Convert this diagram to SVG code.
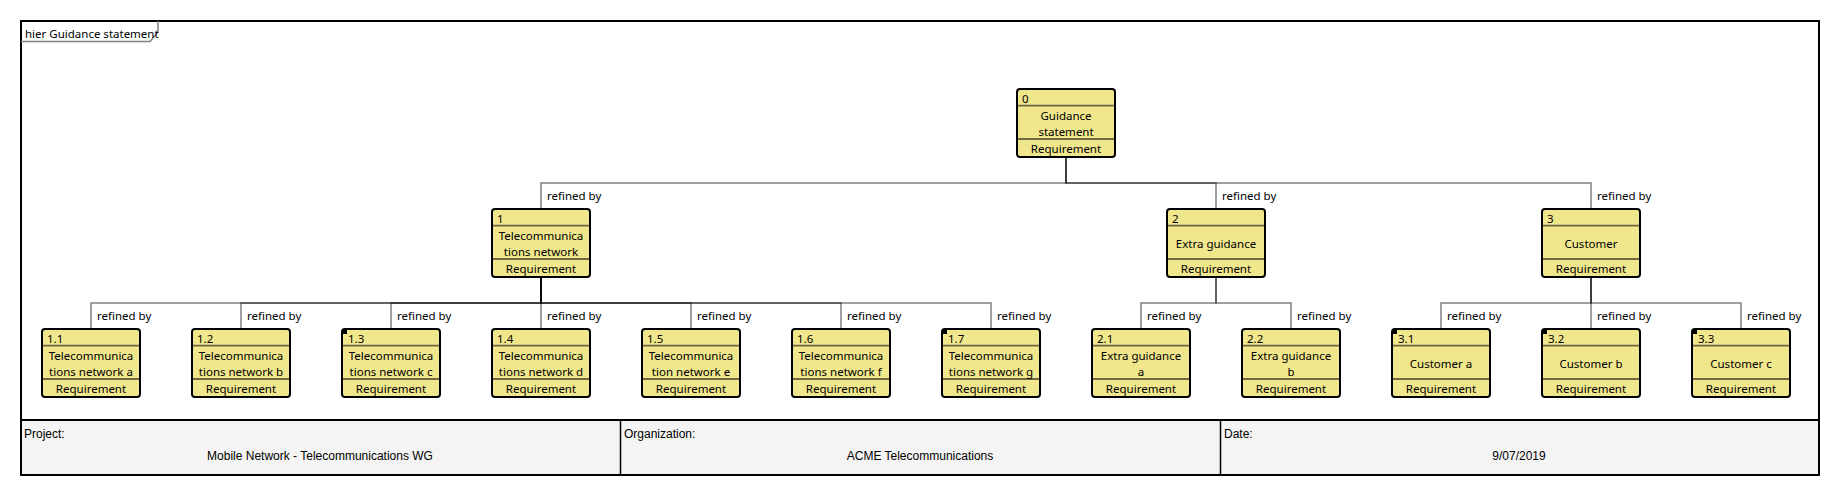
<svg xmlns="http://www.w3.org/2000/svg" width="1840" height="495" viewBox="0 0 1840 495">
<style>
text{font-family:"Noto Sans","Open Sans","DejaVu Sans",sans-serif;fill:#000;}
.nt{font-size:11.5px;text-anchor:middle;}
.id{font-size:11.5px;text-anchor:start;}
.lbl{font-size:11.5px;}
.box{fill:#F0E68C;stroke:#000;stroke-width:2;}
.div{stroke:#6E6844;stroke-width:1.8;}
.mk{fill:#000;}
.con{fill:none;stroke:#000;stroke-opacity:0.5;stroke-width:1.5;}
.ft{font-family:"Liberation Sans","DejaVu Sans",sans-serif;font-size:12px;}
</style>
<defs>
<g id="nodebox">
<rect class="box" x="0" y="0" width="98" height="68" rx="3" ry="3"/>
<line class="div" x1="1" y1="16.7" x2="97" y2="16.7"/>
<line class="div" x1="1" y1="50" x2="97" y2="50"/>
</g>
</defs>
<rect x="0" y="0" width="1840" height="495" fill="#fff"/>
<!-- frame -->
<g id="frame">
<rect x="21" y="420" width="1798" height="55" fill="#F4F4F4"/>
<rect x="21" y="21" width="1798" height="454" fill="none" stroke="#000" stroke-width="2"/>
<path d="M21,41.5 H150 L158,32 V21" fill="none" stroke="#808080" stroke-width="1.5"/>
<text x="25" y="38" style="font-size:11.5px">hier Guidance statement</text>
<line x1="21" y1="420" x2="1819" y2="420" stroke="#000" stroke-width="2"/>
<line x1="620.5" y1="420" x2="620.5" y2="475" stroke="#000" stroke-width="1.5"/>
<line x1="1220.5" y1="420" x2="1220.5" y2="475" stroke="#000" stroke-width="1.5"/>
<text class="ft" x="24" y="437.5">Project:</text>
<text class="ft" x="320" y="459.5" text-anchor="middle">Mobile Network - Telecommunications WG</text>
<text class="ft" x="624" y="437.5">Organization:</text>
<text class="ft" x="920" y="459.5" text-anchor="middle">ACME Telecommunications</text>
<text class="ft" x="1224" y="437.5">Date:</text>
<text class="ft" x="1519" y="459.5" text-anchor="middle">9/07/2019</text>
</g>
<!-- connectors -->
<g id="connectors">
<path class="con" d="M1066,157 V183 H541 V209"/>
<path class="con" d="M1066,157 V183 H1216 V209"/>
<path class="con" d="M1066,157 V183 H1591 V209"/>
<path class="con" d="M541,277 V303 H91 V329"/>
<path class="con" d="M541,277 V303 H241 V329"/>
<path class="con" d="M541,277 V303 H391 V329"/>
<path class="con" d="M541,277 V303 H541 V329"/>
<path class="con" d="M541,277 V303 H691 V329"/>
<path class="con" d="M541,277 V303 H841 V329"/>
<path class="con" d="M541,277 V303 H991 V329"/>
<path class="con" d="M1216,277 V303 H1141 V329"/>
<path class="con" d="M1216,277 V303 H1291 V329"/>
<path class="con" d="M1591,277 V303 H1441 V329"/>
<path class="con" d="M1591,277 V303 H1591 V329"/>
<path class="con" d="M1591,277 V303 H1741 V329"/>
<text class="lbl" x="547" y="200">refined by</text>
<text class="lbl" x="1222" y="200">refined by</text>
<text class="lbl" x="1597" y="200">refined by</text>
<text class="lbl" x="97" y="320">refined by</text>
<text class="lbl" x="247" y="320">refined by</text>
<text class="lbl" x="397" y="320">refined by</text>
<text class="lbl" x="547" y="320">refined by</text>
<text class="lbl" x="697" y="320">refined by</text>
<text class="lbl" x="847" y="320">refined by</text>
<text class="lbl" x="997" y="320">refined by</text>
<text class="lbl" x="1147" y="320">refined by</text>
<text class="lbl" x="1297" y="320">refined by</text>
<text class="lbl" x="1447" y="320">refined by</text>
<text class="lbl" x="1597" y="320">refined by</text>
<text class="lbl" x="1747" y="320">refined by</text>
</g>
<!-- nodes -->
<g id="node-0" transform="translate(1017,89)">
<use href="#nodebox"/>
<text class="id" x="5" y="14.2">0</text>
<text class="nt" x="49" y="31.3">Guidance</text>
<text class="nt" x="49" y="47.3">statement</text>
<text class="nt" x="49" y="64.2">Requirement</text>
</g>
<g id="node-1" transform="translate(492,209)">
<use href="#nodebox"/>
<text class="id" x="5" y="14.2">1</text>
<text class="nt" x="49" y="31.3">Telecommunica</text>
<text class="nt" x="49" y="47.3">tions network</text>
<text class="nt" x="49" y="64.2">Requirement</text>
</g>
<g id="node-2" transform="translate(1167,209)">
<use href="#nodebox"/>
<text class="id" x="5" y="14.2">2</text>
<text class="nt" x="49" y="39.3">Extra guidance</text>
<text class="nt" x="49" y="64.2">Requirement</text>
</g>
<g id="node-3" transform="translate(1542,209)">
<use href="#nodebox"/>
<text class="id" x="5" y="14.2">3</text>
<text class="nt" x="49" y="39.3">Customer</text>
<text class="nt" x="49" y="64.2">Requirement</text>
</g>
<g id="node-1-1" transform="translate(42,329)">
<use href="#nodebox"/>
<text class="id" x="5" y="14.2">1.1</text>
<text class="nt" x="49" y="31.3">Telecommunica</text>
<text class="nt" x="49" y="47.3">tions network a</text>
<text class="nt" x="49" y="64.2">Requirement</text>
</g>
<g id="node-1-2" transform="translate(192,329)">
<use href="#nodebox"/>
<text class="id" x="5" y="14.2">1.2</text>
<text class="nt" x="49" y="31.3">Telecommunica</text>
<text class="nt" x="49" y="47.3">tions network b</text>
<text class="nt" x="49" y="64.2">Requirement</text>
</g>
<g id="node-1-3" transform="translate(342,329)">
<use href="#nodebox"/>
<rect class="mk" x="0" y="0" width="5" height="5"/>
<text class="id" x="6" y="14.2">1.3</text>
<text class="nt" x="49" y="31.3">Telecommunica</text>
<text class="nt" x="49" y="47.3">tions network c</text>
<text class="nt" x="49" y="64.2">Requirement</text>
</g>
<g id="node-1-4" transform="translate(492,329)">
<use href="#nodebox"/>
<text class="id" x="5" y="14.2">1.4</text>
<text class="nt" x="49" y="31.3">Telecommunica</text>
<text class="nt" x="49" y="47.3">tions network d</text>
<text class="nt" x="49" y="64.2">Requirement</text>
</g>
<g id="node-1-5" transform="translate(642,329)">
<use href="#nodebox"/>
<text class="id" x="5" y="14.2">1.5</text>
<text class="nt" x="49" y="31.3">Telecommunica</text>
<text class="nt" x="49" y="47.3">tion network e</text>
<text class="nt" x="49" y="64.2">Requirement</text>
</g>
<g id="node-1-6" transform="translate(792,329)">
<use href="#nodebox"/>
<text class="id" x="5" y="14.2">1.6</text>
<text class="nt" x="49" y="31.3">Telecommunica</text>
<text class="nt" x="49" y="47.3">tions network f</text>
<text class="nt" x="49" y="64.2">Requirement</text>
</g>
<g id="node-1-7" transform="translate(942,329)">
<use href="#nodebox"/>
<rect class="mk" x="0" y="0" width="5" height="5"/>
<text class="id" x="6" y="14.2">1.7</text>
<text class="nt" x="49" y="31.3">Telecommunica</text>
<text class="nt" x="49" y="47.3">tions network g</text>
<text class="nt" x="49" y="64.2">Requirement</text>
</g>
<g id="node-2-1" transform="translate(1092,329)">
<use href="#nodebox"/>
<text class="id" x="5" y="14.2">2.1</text>
<text class="nt" x="49" y="31.3">Extra guidance</text>
<text class="nt" x="49" y="47.3">a</text>
<text class="nt" x="49" y="64.2">Requirement</text>
</g>
<g id="node-2-2" transform="translate(1242,329)">
<use href="#nodebox"/>
<text class="id" x="5" y="14.2">2.2</text>
<text class="nt" x="49" y="31.3">Extra guidance</text>
<text class="nt" x="49" y="47.3">b</text>
<text class="nt" x="49" y="64.2">Requirement</text>
</g>
<g id="node-3-1" transform="translate(1392,329)">
<use href="#nodebox"/>
<rect class="mk" x="0" y="0" width="5" height="5"/>
<text class="id" x="6" y="14.2">3.1</text>
<text class="nt" x="49" y="39.3">Customer a</text>
<text class="nt" x="49" y="64.2">Requirement</text>
</g>
<g id="node-3-2" transform="translate(1542,329)">
<use href="#nodebox"/>
<rect class="mk" x="0" y="0" width="5" height="5"/>
<text class="id" x="6" y="14.2">3.2</text>
<text class="nt" x="49" y="39.3">Customer b</text>
<text class="nt" x="49" y="64.2">Requirement</text>
</g>
<g id="node-3-3" transform="translate(1692,329)">
<use href="#nodebox"/>
<rect class="mk" x="0" y="0" width="5" height="5"/>
<text class="id" x="6" y="14.2">3.3</text>
<text class="nt" x="49" y="39.3">Customer c</text>
<text class="nt" x="49" y="64.2">Requirement</text>
</g>
</svg>
